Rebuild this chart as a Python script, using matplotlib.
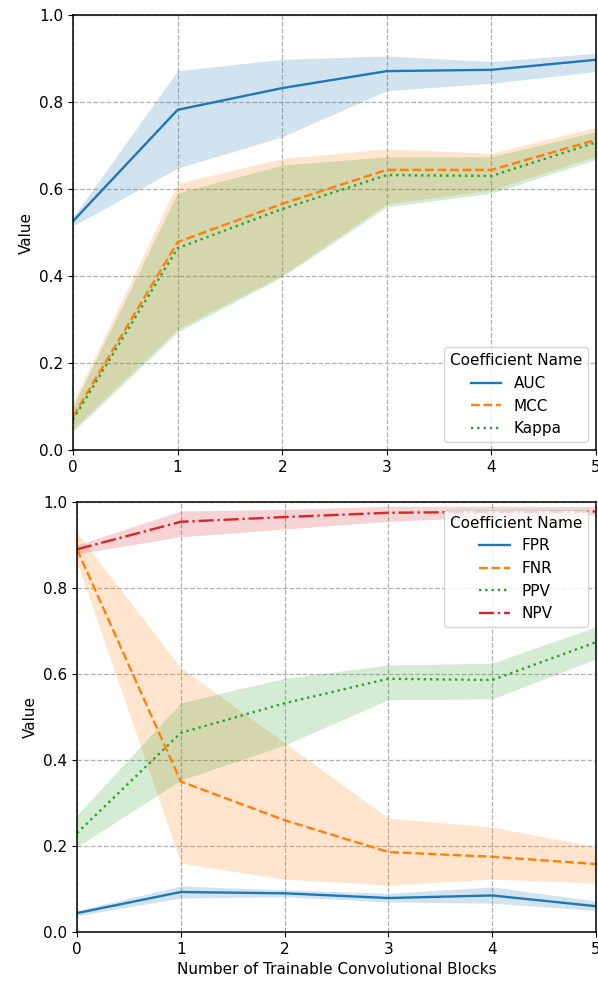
import matplotlib
matplotlib.use("Agg")
import matplotlib.pyplot as plt
import numpy as np

blocks = [0, 1, 2, 3, 4, 5]

# top panel: mean, lower, upper
auc = [0.526, 0.782, 0.832, 0.871, 0.874, 0.897]
auc_lo = [0.515, 0.648, 0.720, 0.826, 0.843, 0.870]
auc_hi = [0.535, 0.872, 0.898, 0.906, 0.893, 0.912]

mcc = [0.077, 0.478, 0.566, 0.644, 0.644, 0.713]
mcc_lo = [0.048, 0.278, 0.402, 0.566, 0.598, 0.675]
mcc_hi = [0.110, 0.613, 0.670, 0.692, 0.682, 0.742]

kappa = [0.070, 0.464, 0.554, 0.632, 0.630, 0.707]
kappa_lo = [0.042, 0.271, 0.398, 0.559, 0.590, 0.668]
kappa_hi = [0.100, 0.591, 0.655, 0.674, 0.674, 0.732]

# bottom panel
fpr = [0.044, 0.093, 0.090, 0.079, 0.085, 0.060]
fpr_lo = [0.038, 0.079, 0.082, 0.070, 0.067, 0.050]
fpr_hi = [0.050, 0.107, 0.098, 0.090, 0.105, 0.072]

fnr = [0.890, 0.350, 0.260, 0.186, 0.175, 0.158]
fnr_lo = [0.860, 0.160, 0.123, 0.109, 0.123, 0.114]
fnr_hi = [0.928, 0.615, 0.440, 0.265, 0.244, 0.198]

ppv = [0.230, 0.463, 0.532, 0.589, 0.586, 0.674]
ppv_lo = [0.198, 0.353, 0.435, 0.540, 0.542, 0.635]
ppv_hi = [0.272, 0.533, 0.590, 0.621, 0.625, 0.710]

npv = [0.890, 0.954, 0.965, 0.975, 0.977, 0.978]
npv_lo = [0.880, 0.919, 0.937, 0.955, 0.965, 0.970]
npv_hi = [0.900, 0.979, 0.983, 0.990, 0.990, 0.990]

top_series = [("AUC", auc, auc_lo, auc_hi, "-"),
              ("MCC", mcc, mcc_lo, mcc_hi, "--"),
              ("Kappa", kappa, kappa_lo, kappa_hi, ":")]
bot_series = [("FPR", fpr, fpr_lo, fpr_hi, "-"),
              ("FNR", fnr, fnr_lo, fnr_hi, "--"),
              ("PPV", ppv, ppv_lo, ppv_hi, ":"),
              ("NPV", npv, npv_lo, npv_hi, "-.")]

colors = ["#1f77b4", "#ff7f0e", "#2ca02c", "#d62728"]

plt.rcParams["font.size"] = 11

fig = plt.figure(figsize=(5.98, 9.81), dpi=100)
ax_top = fig.add_axes([73 / 598, 1 - 450 / 981, 523 / 598, 435 / 981])
ax_bot = fig.add_axes([77 / 598, 1 - 932 / 981, 519 / 598, 430 / 981])


def draw(ax, series):
    for i, (name, mean, lo, hi, ls) in enumerate(series):
        c = colors[i]
        ax.fill_between(blocks, lo, hi, color=c, alpha=0.2, linewidth=0)
        ax.plot(blocks, mean, color=c, linestyle=ls, linewidth=1.7, label=name)
    ax.set_xlim(0, 5)
    ax.set_ylim(0, 1)
    ax.set_ylabel("Value")
    ax.grid(True, linestyle="--", color="#b0b0b0", linewidth=0.9)
    ax.set_axisbelow(True)
    for sp in ax.spines.values():
        sp.set_linewidth(1.1)


draw(ax_top, top_series)
ax_top.legend(title="Coefficient Name", loc="lower right")

draw(ax_bot, bot_series)
ax_bot.legend(title="Coefficient Name", loc="upper right")
ax_bot.set_xlabel("Number of Trainable Convolutional Blocks")

fig.savefig("out.png", dpi=100)
